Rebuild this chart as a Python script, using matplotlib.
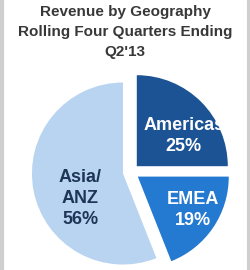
import matplotlib
matplotlib.use('Agg')
from matplotlib import pyplot
from matplotlib.patches import Rectangle

regions = ['Americas', 'EMEA', 'Asia/\nANZ']
shares = [25, 19, 56]
title = 'Revenue by Geography\nRolling Four Quarters Ending\nQ2\'13'

colors = ['#1b5394', '#2479d0', '#b9d4f1']
text_colors = ['white', 'white', '#1f3558']
# label centres in data units (radius = 1)
label_pos = [(0.58, 0.40), (0.68, -0.42), (-0.56, -0.29)]

fig = pyplot.figure(figsize=(2.5, 2.7), dpi=100)
fig.patch.set_facecolor('white')

# light grey frame of the slide
fig.patches.append(Rectangle((0.006, -0.01), 0.988, 1.02, transform=fig.transFigure,
                             fill=False, edgecolor='#cfcfcf', linewidth=3))

fig.text(0.5, 0.983, title, ha='center', va='top', fontsize=11, fontweight='bold',
         family='Liberation Sans', color='#383838', linespacing=1.55)

ax = fig.add_axes([0.0872, -0.0415, 0.8736, 0.809])
ax.pie(shares, colors=colors, startangle=90, counterclock=False,
       explode=[0.09, 0.09, 0.09], wedgeprops={'linewidth': 0})
ax.set_xlim(-1.2, 1.2)
ax.set_ylim(-1.2, 1.2)
ax.set_aspect('equal')
ax.axis('off')

for name, share, pos, tc in zip(regions, shares, label_pos, text_colors):
    ax.text(pos[0], pos[1], f'{name}\n{share}%', ha='center', va='center',
            fontsize=13, fontweight='bold', family='Liberation Sans',
            color=tc, linespacing=1.3)

fig.savefig('out.png', dpi=100)
